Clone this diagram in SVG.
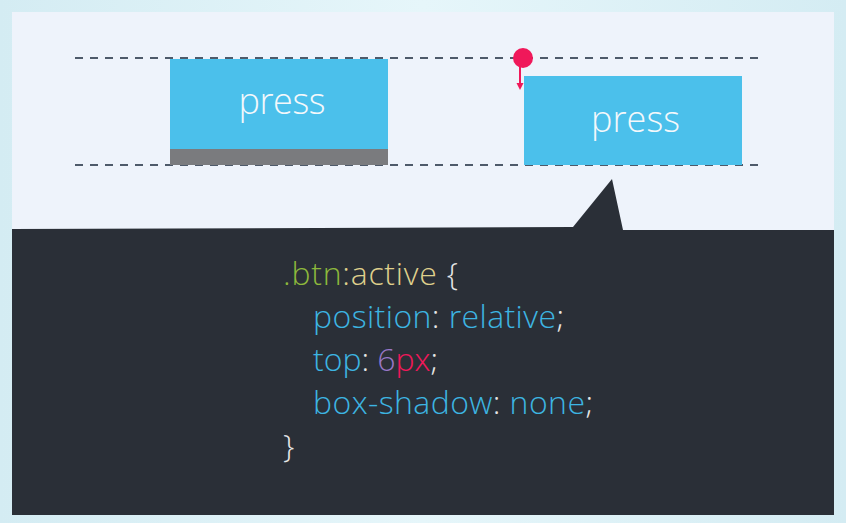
<svg xmlns="http://www.w3.org/2000/svg" width="846" height="523" viewBox="0 0 846 523">
<defs>
<linearGradient id="bg" x1="0" y1="0" x2="1" y2="0">
<stop offset="0" stop-color="#d4ecf3"/><stop offset="0.5" stop-color="#e6f6fa"/><stop offset="1" stop-color="#d4ecf3"/>
</linearGradient>
<style>
.dash{stroke:#4e5a6a;stroke-width:2;stroke-dasharray:8 7;fill:none}
.btn{fill:#4bc0eb}
.lbl{font-family:"Open Sans","Liberation Sans",sans-serif;font-weight:300;font-size:36px;fill:#f4f8fb;text-anchor:middle}
.code{font-family:"Open Sans","Liberation Sans",sans-serif;font-weight:300;font-size:32px}
.g{fill:#8db83c}.y{fill:#dfd08c}.w{fill:#e6e6e6}.b{fill:#3db5e2}.p{fill:#9877c8}.r{fill:#f0185a}
</style>
</defs>
<rect width="846" height="523" fill="url(#bg)"/>
<rect x="12" y="12" width="822" height="503" fill="#eef3fb"/>
<path d="M12 229 L573 227 L612 179 L623 230 L834 230 L834 515 L12 515 Z" fill="#2a2f37"/>
<g id="guides">
<line class="dash" x1="75" y1="58" x2="760" y2="58"/>
<line class="dash" x1="75" y1="165" x2="760" y2="165"/>
</g>
<g id="btn-normal">
<rect class="btn" x="170" y="59" width="218" height="91"/>
<rect x="170" y="149" width="218" height="16" fill="#7a7b7e"/>
<text class="lbl" x="282" y="114" textLength="87">press</text>
</g>
<g id="btn-active">
<rect class="btn" x="524" y="76" width="218" height="89"/>
<text class="lbl" x="635.5" y="132" textLength="89">press</text>
</g>
<g id="connectors">
<circle cx="523" cy="58" r="10" fill="#f0185a"/>
<line x1="520" y1="62" x2="520" y2="84" stroke="#f0185a" stroke-width="2"/>
<path d="M516.5 83 L523.5 83 L520 90 Z" fill="#f0185a"/>
</g>
<g id="code" class="code">
<text x="283" y="285" textLength="175"><tspan class="g">.btn</tspan><tspan class="y">:active</tspan><tspan class="w"> {</tspan></text>
<text x="313" y="328" textLength="251"><tspan class="b">position</tspan><tspan class="w">: </tspan><tspan class="b">relative</tspan><tspan class="w">;</tspan></text>
<text x="313" y="371" textLength="125"><tspan class="b">top</tspan><tspan class="w">: </tspan><tspan class="p">6</tspan><tspan class="r">px</tspan><tspan class="w">;</tspan></text>
<text x="313" y="414" textLength="280"><tspan class="b">box-shadow</tspan><tspan class="w">: </tspan><tspan class="b">none</tspan><tspan class="w">;</tspan></text>
<text x="283" y="457" class="w">}</text>
</g>
</svg>
